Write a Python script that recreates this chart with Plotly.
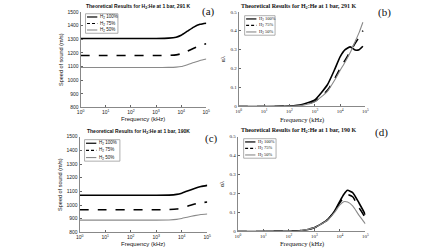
import plotly.graph_objects as go

W, H = 448, 252

series_names = ["H<sub>2</sub> 100%", "H<sub>2</sub> 75%", "H<sub>2</sub> 50%"]

# Speed-of-sound panels (a) and (c)
freq_speed = [1, 10, 100, 1000, 3162, 6310, 10000, 17783, 31623, 56234, 100000]
speed_a_100 = [1305, 1305, 1305, 1305, 1307, 1314, 1328, 1358, 1388, 1408, 1416]
speed_a_75 = [1180, 1180, 1180, 1180, 1181, 1185, 1193, 1212, 1233, 1252, 1266]
speed_a_50 = [1092, 1092, 1092, 1092, 1093, 1095, 1099, 1113, 1129, 1144, 1155]
speed_c_100 = [1072, 1072, 1072, 1072, 1073, 1078, 1087, 1104, 1122, 1136, 1144]
speed_c_75 = [966, 966, 966, 966, 967, 971, 978, 993, 1008, 1017, 1022]
speed_c_50 = [890, 890, 890, 890, 891, 895, 902, 913, 923, 931, 935]

# Attenuation panels (b) and (d)
freq_b = [1, 10, 100, 316, 1000, 3162, 6310, 10000, 15849, 25119, 39811, 56234, 79433]
alpha_b_100 = [0, 0, 0.002, 0.01, 0.035, 0.115, 0.2, 0.262, 0.3, 0.315, 0.298, 0.3, 0.318]
alpha_b_75 = [0, 0, 0.001, 0.007, 0.027, 0.085, 0.15, 0.2, 0.245, 0.29, 0.335, 0.365, 0.40]
alpha_b_50 = [0, 0, 0.001, 0.006, 0.025, 0.08, 0.142, 0.19, 0.235, 0.285, 0.345, 0.39, 0.445]

freq_d = [1, 10, 100, 316, 1000, 3162, 6310, 10000, 14125, 19953, 31623, 56234, 100000]
alpha_d_100 = [0, 0, 0.001, 0.005, 0.02, 0.06, 0.11, 0.16, 0.195, 0.217, 0.205, 0.15, 0.088]
alpha_d_75 = [0, 0, 0.001, 0.005, 0.02, 0.06, 0.108, 0.152, 0.18, 0.195, 0.183, 0.125, 0.072]
alpha_d_50 = [0, 0, 0.001, 0.005, 0.02, 0.058, 0.102, 0.14, 0.157, 0.155, 0.135, 0.085, 0.04]

x_tickvals = [1, 10, 100, 1000, 10000, 100000]
x_ticktext = ["10<sup>%d</sup>" % i for i in range(6)]
speed_ticks = [800, 900, 1000, 1100, 1200, 1300, 1400, 1500]
alpha_ticks = [0, 0.1, 0.2, 0.3, 0.4, 0.5]
alpha_ticktext = ["0", "0.1", "0.2", "0.3", "0.4", "0.5"]

styles = [
    dict(color="black", width=1.6, dash="solid"),
    dict(color="black", width=1.6, dash="dash"),
    dict(color="#8a8a8a", width=1.1, dash="solid"),
]

SANS = "Liberation Sans, Arial, sans-serif"
SERIF = "Liberation Serif, Times New Roman, serif"

def px_x(p):
    return p / W

def px_y(p):
    return 1 - p / H

panels = [
    dict(key="", x=(78, 206), y=(9, 107), freq=freq_speed,
         ys=[speed_a_100, speed_a_75, speed_a_50], kind="speed",
         title="Theoretical Results for H<sub>2</sub>:He at 1 bar, 291 K",
         font=SANS, label="(a)", label_pos=(208, 9),
         legend=(83, 116, 11, 31), title_x=137, title_y=4, xtitle_y=119),
    dict(key="2", x=(239, 368), y=(9, 106), freq=freq_b,
         ys=[alpha_b_100, alpha_b_75, alpha_b_50], kind="alpha",
         title="Theoretical Results for H<sub>2</sub>:He at 1 bar, 291 K",
         font=SERIF, label="(b)", label_pos=(387, 10),
         legend=(245, 276, 13, 33), title_x=300, title_y=4, xtitle_y=120),
    dict(key="3", x=(77, 207), y=(137, 235), freq=freq_speed,
         ys=[speed_c_100, speed_c_75, speed_c_50], kind="speed",
         title="Theoretical Results for H<sub>2</sub>:He at 1 bar, 190K",
         font=SANS, label="(c)", label_pos=(211, 139),
         legend=(82, 118, 140, 162), title_x=137, title_y=132, xtitle_y=247),
    dict(key="4", x=(238, 368), y=(137, 234), freq=freq_d,
         ys=[alpha_d_100, alpha_d_75, alpha_d_50], kind="alpha",
         title="Theoretical Results for H<sub>2</sub>:He at 1 bar, 190 K",
         font=SERIF, label="(d)", label_pos=(384, 133),
         legend=(244, 277, 139, 159), title_x=300, title_y=131, xtitle_y=247),
]

fig = go.Figure()
shapes = []
annotations = []

for p in panels:
    k = p["key"]
    xa = "x" + k
    ya = "y" + k
    for ys, name, st in zip(p["ys"], series_names, styles):
        fig.add_trace(go.Scatter(
            x=p["freq"], y=ys, mode="lines", name=name, showlegend=False,
            line=dict(color=st["color"], width=st["width"], dash=st["dash"],
                      shape="spline", smoothing=0.5),
            xaxis=xa, yaxis=ya))
    f = p["font"]
    xaxis = dict(
        type="log", range=[0, 5], domain=[px_x(p["x"][0]), px_x(p["x"][1])],
        anchor=ya, tickvals=x_tickvals, ticktext=x_ticktext,
        ticks="inside", ticklen=2, tickcolor="#666",
        showline=True, linecolor="#888", linewidth=1, mirror=False,
        showgrid=False, zeroline=False,
        tickfont=dict(family=f, size=5, color="#222"),
    )
    if p["kind"] == "speed":
        yaxis = dict(range=[800, 1500], tickvals=speed_ticks,
                     title=dict(text="Speed of sound (m/s)", font=dict(family=f, size=5.5, color="#111"), standoff=3))
    else:
        yaxis = dict(range=[0, 0.5], tickvals=alpha_ticks, ticktext=alpha_ticktext,
                     title=dict(text="αλ", font=dict(family=f, size=6, color="#111"), standoff=4))
    yaxis.update(domain=[px_y(p["y"][1]), px_y(p["y"][0])], anchor=xa,
                 ticks="inside", ticklen=2, tickcolor="#666",
                 showline=True, linecolor="#888", linewidth=1, mirror=False,
                 showgrid=False, zeroline=False,
                 tickfont=dict(family=f, size=5, color="#222"))
    fig.layout["xaxis" + k] = xaxis
    fig.layout["yaxis" + k] = yaxis

    annotations.append(dict(
        text="Frequency (kHz)", xref="paper", yref="paper",
        x=px_x((p["x"][0] + p["x"][1]) / 2), y=px_y(p["xtitle_y"]),
        xanchor="center", yanchor="middle", showarrow=False,
        font=dict(family=f, size=6.5 if f == SERIF else 6, color="#111")))
    annotations.append(dict(
        text="<b>" + p["title"] + "</b>", xref="paper", yref="paper",
        x=px_x(p["title_x"]), y=px_y(p["title_y"]), xanchor="center", yanchor="middle",
        showarrow=False, font=dict(family=f, size=5 if f == SANS else 6, color="#111")))
    annotations.append(dict(
        text=p["label"], xref="paper", yref="paper",
        x=px_x(p["label_pos"][0]), y=px_y(p["label_pos"][1]),
        xanchor="center", yanchor="middle", showarrow=False,
        font=dict(family=SERIF, size=11, color="#111")))

    # legend box
    lx0, lx1, ly0, ly1 = p["legend"]
    shapes.append(dict(type="rect", xref="paper", yref="paper",
                       x0=px_x(lx0), x1=px_x(lx1), y0=px_y(ly1), y1=px_y(ly0),
                       line=dict(color="#999", width=0.8), fillcolor="white"))
    n = len(series_names)
    step = (ly1 - ly0) / n
    for i, (name, st) in enumerate(zip(series_names, styles)):
        yy = ly0 + step * (i + 0.5)
        shapes.append(dict(type="line", xref="paper", yref="paper",
                           x0=px_x(lx0 + 1.5), x1=px_x(lx0 + 12), y0=px_y(yy), y1=px_y(yy),
                           line=dict(color=st["color"], width=min(st["width"], 1.2), dash=st["dash"] if st["dash"] != "dash" else "3px,2px")))
        annotations.append(dict(
            text=name, xref="paper", yref="paper",
            x=px_x(lx0 + 13), y=px_y(yy), xanchor="left", yanchor="middle",
            showarrow=False, font=dict(family=f, size=4.5, color="#111")))

fig.update_layout(
    width=W, height=H, margin=dict(l=0, r=0, t=0, b=0),
    paper_bgcolor="white", plot_bgcolor="white",
    shapes=shapes, annotations=annotations, hovermode=False,
)

fig.write_html(
    "out.html",
    config={"displayModeBar": False, "staticPlot": True},
    post_script="document.body.style.margin='0';document.body.style.overflow='hidden';",
)
